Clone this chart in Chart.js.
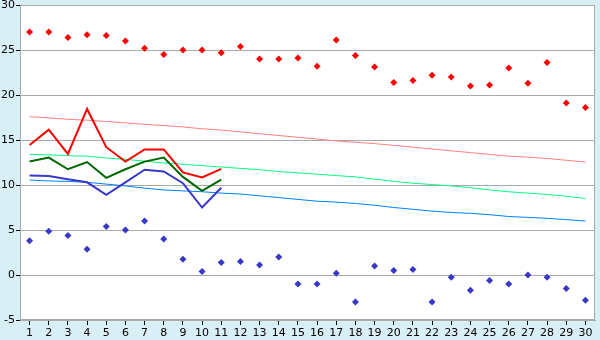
<!DOCTYPE html>
<html>
<head>
<meta charset="utf-8">
<script src="https://cdn.jsdelivr.net/npm/chart.js@4"></script>
<style>
  html, body { margin: 0; padding: 0; background: #d9eff6; }
  #wrap { width: 600px; height: 340px; }
</style>
</head>
<body>
<div id="wrap"><canvas id="tempChart" width="600" height="340"></canvas></div>
<script>
// 날짜 (1~30)
const days = ['1','2','3','4','5','6','7','8','9','10','11','12','13','14','15',
              '16','17','18','19','20','21','22','23','24','25','26','27','28','29','30'];

// 최고/최저 기록 (점)
const recordHigh = [27, 27, 26.4, 26.7, 26.6, 26, 25.2, 24.5, 25, 25, 24.7, 25.4, 24, 24, 24.1,
                    23.2, 26.1, 24.4, 23.1, 21.4, 21.6, 22.2, 22, 21, 21.1, 23, 21.3, 23.6, 19.1, 18.6];
const recordLow = [3.8, 4.85, 4.4, 2.85, 5.4, 5, 6, 4, 1.75, 0.4, 1.4, 1.5, 1.1, 2, -1,
                   -1, 0.2, -3, 1, 0.5, 0.6, -3, -0.25, -1.7, -0.6, -1, 0, -0.25, -1.5, -2.8];

// 이번 달 관측값 (1~11일)
const obsHigh = [14.45, 16.15, 13.45, 18.45, 14.2, 12.6, 13.95, 13.95, 11.4, 10.85, 11.8];
const obsMean = [12.6, 13.05, 11.75, 12.55, 10.8, 11.75, 12.6, 13.05, 10.9, 9.35, 10.6];
const obsLow  = [11.05, 11.0, 10.65, 10.3, 8.9, 10.3, 11.7, 11.5, 10.2, 7.5, 9.7];

// 평년값
const normalHigh = [17.6, 17.45, 17.3, 17.2, 17.05, 16.9, 16.75, 16.6, 16.45, 16.25, 16.1, 15.9, 15.7, 15.5, 15.3,
                    15.1, 14.9, 14.75, 14.6, 14.4, 14.2, 14.0, 13.8, 13.6, 13.4, 13.2, 13.1, 12.95, 12.75, 12.55];
const normalMean = [13.4, 13.35, 13.25, 13.2, 13.0, 12.85, 12.65, 12.45, 12.3, 12.15, 12.0, 11.85, 11.7, 11.5, 11.35,
                    11.2, 11.05, 10.9, 10.65, 10.4, 10.2, 10.05, 9.9, 9.7, 9.45, 9.25, 9.1, 8.95, 8.75, 8.5];
const normalLow  = [10.55, 10.45, 10.4, 10.3, 10.1, 9.9, 9.65, 9.45, 9.35, 9.25, 9.1, 9.0, 8.8, 8.6, 8.4,
                    8.2, 8.1, 7.95, 7.75, 7.5, 7.3, 7.1, 6.95, 6.85, 6.7, 6.5, 6.4, 6.3, 6.15, 6.0];

const yTicks = [-5, 0, 5, 10, 15, 20, 25, 30];

// 배경 (바깥 하늘색, 플롯 영역 흰색)
const bgPlugin = {
    id: 'bg',
    beforeDraw(chart) {
        const ctx = chart.ctx;
        const a = chart.chartArea;
        ctx.save();
        ctx.fillStyle = '#d9eff6';
        ctx.fillRect(0, 0, chart.width, chart.height);
        ctx.fillStyle = '#ffffff';
        ctx.fillRect(a.left, a.top, a.right - a.left, a.bottom - a.top);
        ctx.restore();
    },
    afterDraw(chart) {
        const ctx = chart.ctx;
        const a = chart.chartArea;
        ctx.save();
        ctx.strokeStyle = '#aaaaaa';
        ctx.lineWidth = 1;
        ctx.strokeRect(Math.round(a.left) + 0.5, Math.round(a.top) + 0.5,
                       Math.round(a.right - a.left) - 1, Math.round(a.bottom - a.top) - 1);
        ctx.restore();
    }
};

function lineSet(data, color, width, order) {
    return {
        type: 'line',
        data: data,
        borderColor: color,
        borderWidth: width,
        pointRadius: 0,
        fill: false,
        tension: 0,
        order: order
    };
}

function pointSet(data, color) {
    return {
        type: 'line',
        data: data,
        showLine: false,
        pointStyle: 'rectRot',
        pointRadius: 3.5,
        pointBackgroundColor: color,
        pointBorderColor: color,
        pointBorderWidth: 0,
        order: 0
    };
}

const canvas = document.getElementById('tempChart');

new Chart(canvas, {
    type: 'line',
    data: {
        labels: days,
        datasets: [
            pointSet(recordHigh, '#ff0000'),
            pointSet(recordLow, '#3838c8'),
            lineSet(obsHigh, '#ff0000', 2, 1),
            lineSet(obsMean, '#006600', 2, 1),
            lineSet(obsLow, '#3838c8', 2, 1),
            lineSet(normalHigh, '#ff8080', 1, 2),
            lineSet(normalMean, '#00ff80', 1, 2),
            lineSet(normalLow, '#0080ff', 1, 2)
        ]
    },
    options: {
        responsive: false,
        animation: false,
        layout: {
            padding: { top: 5, right: 5, left: 0, bottom: 0 }
        },
        plugins: {
            legend: { display: false },
            tooltip: { enabled: false }
        },
        scales: {
            x: {
                offset: true,
                grid: {
                    drawOnChartArea: false,
                    offset: false,
                    tickLength: 5,
                    tickColor: '#000000'
                },
                border: { color: '#aaaaaa' },
                ticks: {
                    color: '#000000',
                    padding: 2,
                    maxRotation: 0,
                    autoSkip: false,
                    font: { family: "'DejaVu Sans', sans-serif", size: 11 }
                },
                afterFit(scale) {
                    scale.height = 20;
                    scale.paddingLeft = 0;
                    scale.paddingRight = 0;
                }
            },
            y: {
                min: -5,
                max: 30,
                afterBuildTicks(scale) {
                    scale.ticks = yTicks.map(v => ({ value: v }));
                },
                grid: {
                    color: '#aaaaaa',
                    tickLength: 4,
                    tickColor: '#000000'
                },
                border: { color: '#aaaaaa' },
                ticks: {
                    color: '#000000',
                    padding: 1,
                    font: { family: "'DejaVu Sans', sans-serif", size: 11 }
                },
                afterFit(scale) {
                    scale.width = 20;
                    scale.paddingTop = 0;
                    scale.paddingBottom = 0;
                }
            }
        }
    },
    plugins: [bgPlugin]
});
</script>
</body>
</html>
